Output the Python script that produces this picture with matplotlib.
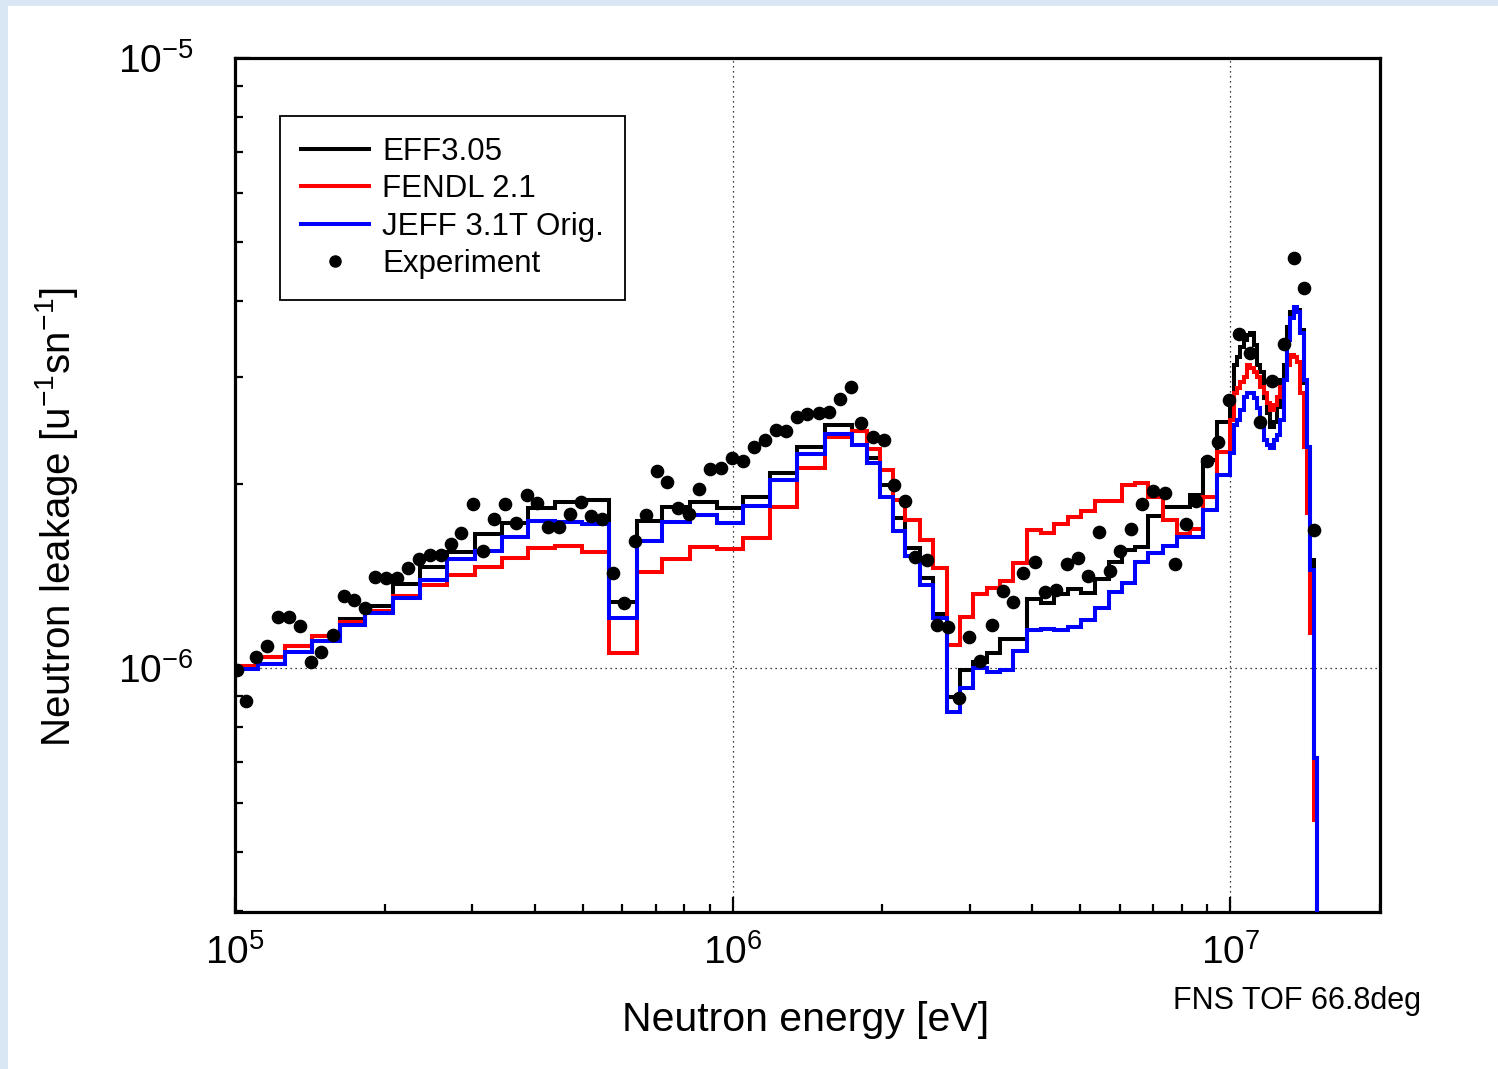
import numpy as np
import matplotlib
matplotlib.use('Agg')
import matplotlib.pyplot as plt
from matplotlib.lines import Line2D
from matplotlib.patches import Rectangle
from matplotlib.ticker import FixedLocator, NullFormatter

plt.rcParams['font.family'] = ['Liberation Sans', 'DejaVu Sans']
plt.rcParams['mathtext.default'] = 'regular'

# ---------------- data ----------------
# group bin edges, neutron energy in MeV
edges_MeV = [0.1000, 0.1114, 0.1260, 0.1426, 0.1626, 0.1825, 0.2081, 0.2354, 0.2664, 0.3036,
             0.3437, 0.3887, 0.4398, 0.4976, 0.5654, 0.6419, 0.7206, 0.8214, 0.9296, 1.0513,
             1.1896, 1.3461, 1.5346, 1.7365, 1.8615, 1.9792, 2.1048, 2.222, 2.382, 2.533,
             2.695, 2.866, 3.048, 3.243, 3.449, 3.667, 3.902, 4.164, 4.431, 4.715,
             5.017, 5.354, 5.694, 6.056, 6.442, 6.851, 7.344, 7.813, 8.309, 8.836,
             9.402, 10.00, 10.16, 10.31, 10.47, 10.64, 10.80, 10.97, 11.14, 11.31,
             11.49, 11.67, 11.85, 12.03, 12.22, 12.41, 12.60, 12.80, 13.00, 13.20,
             13.41, 13.62, 13.83, 14.04, 14.26, 14.48, 14.71, 14.94, 15.17]

# leakage per group, units of 1e-6 /u/sn
eff305 = [1.009, 1.044, 1.087, 1.128, 1.203, 1.265, 1.373, 1.464, 1.550, 1.658,
          1.730, 1.829, 1.871, 1.886, 1.285, 1.741, 1.838, 1.873, 1.829, 1.909,
          2.087, 2.303, 2.502, 2.446, 2.210, 1.995, 1.762, 1.573, 1.403, 1.226,
          0.895, 0.992, 1.024, 1.057, 1.114, 1.114, 1.296, 1.277, 1.321, 1.346,
          1.326, 1.398, 1.494, 1.562, 1.580, 1.775, 1.838, 1.838, 1.921, 2.193,
          2.533,
          2.785, 3.139, 3.239, 3.363, 3.449, 3.515, 3.537, 3.384, 3.139, 3.060,
          2.768, 2.616, 2.486, 2.533, 2.682, 2.966, 3.139, 3.627, 3.838, 3.888,
          3.863, 3.581, 2.929, 2.306, 1.503, 0.712, 0.001]

fendl21 = [1.009, 1.044, 1.087, 1.128, 1.191, 1.241, 1.312, 1.368, 1.422, 1.466,
           1.515, 1.575, 1.587, 1.550, 1.057, 1.438, 1.509, 1.580, 1.567, 1.632,
           1.834, 2.125, 2.394, 2.446, 2.286, 2.112, 1.886, 1.745, 1.621, 1.456,
           1.089, 1.212, 1.322, 1.353, 1.389, 1.486, 1.684, 1.665, 1.722, 1.770,
           1.811, 1.875, 1.875, 1.995, 2.008, 1.909, 1.745, 1.660, 1.688, 1.909,
           2.263,
           2.550, 2.821, 2.874, 2.947, 3.003, 3.139, 3.100, 3.060, 3.003, 2.892,
           2.821, 2.716, 2.648, 2.699, 2.785, 2.892, 2.966, 3.139, 3.260, 3.239,
           3.178, 2.821, 2.306, 1.793, 1.140, 0.563, 0.001]

jeff31t = [0.996, 1.015, 1.063, 1.107, 1.176, 1.231, 1.302, 1.394, 1.509, 1.557,
           1.640, 1.741, 1.735, 1.722, 1.209, 1.615, 1.735, 1.782, 1.730, 1.845,
           2.033, 2.243, 2.419, 2.321, 2.168, 1.909, 1.677, 1.526, 1.368, 1.208,
           0.848, 0.926, 0.998, 0.986, 0.994, 1.067, 1.152, 1.159, 1.154, 1.169,
           1.198, 1.254, 1.332, 1.378, 1.489, 1.542, 1.585, 1.642, 1.642, 1.816,
           2.068,
           2.249, 2.502, 2.550, 2.648, 2.785, 2.821, 2.821, 2.768, 2.666, 2.533,
           2.364, 2.321, 2.292, 2.364, 2.410, 2.550, 2.966, 3.449, 3.743, 3.912,
           3.838, 3.537, 2.966, 2.306, 1.448, 0.712, 0.001]

# experiment (MeV, 1e-6 /u/sn)
exp_E_MeV = [0.1008, 0.1051, 0.1102, 0.1161, 0.1222, 0.1284, 0.1351, 0.1421, 0.1491, 0.1576,
             0.1654, 0.1735, 0.1823, 0.1914, 0.2012, 0.2120, 0.2228, 0.2343, 0.2466, 0.2591,
             0.2714, 0.2850, 0.3006, 0.3155, 0.3316, 0.3486, 0.3667, 0.3858, 0.4052, 0.4264,
             0.4481, 0.4707, 0.4952, 0.5202, 0.5473, 0.5751, 0.6051, 0.6370, 0.6687, 0.7042,
             0.7396, 0.7772, 0.8165, 0.8576, 0.9012, 0.9469, 0.9991, 1.051, 1.105, 1.161,
             1.221, 1.283, 1.348, 1.414, 1.490, 1.563, 1.642, 1.733, 1.813, 1.914,
             2.017, 2.112, 2.219, 2.331, 2.457, 2.573, 2.715, 2.853, 2.992, 3.145,
             3.319, 3.489, 3.662, 3.842, 4.043, 4.248, 4.471, 4.697, 4.942, 5.190,
             5.453, 5.738, 6.010, 6.324, 6.664, 7.012, 7.379, 7.728, 8.146, 8.532,
             8.978, 9.460, 9.954, 10.42, 10.97, 11.49, 12.13, 12.80, 13.41, 14.10,
             14.77]
exp_val = [0.992, 0.883, 1.044, 1.087, 1.214, 1.214, 1.173, 1.024, 1.063, 1.133,
           1.312, 1.293, 1.254, 1.411, 1.403, 1.403, 1.460, 1.509, 1.532, 1.532,
           1.595, 1.663, 1.855, 1.555, 1.753, 1.855, 1.730, 1.921, 1.862, 1.704,
           1.704, 1.786, 1.873, 1.775, 1.753, 1.431, 1.277, 1.614, 1.782, 2.103,
           2.020, 1.832, 1.786, 1.965, 2.122, 2.125, 2.207, 2.185, 2.300, 2.364,
           2.456, 2.446, 2.576, 2.608, 2.621, 2.628, 2.757, 2.892, 2.518, 2.389,
           2.364, 1.998, 1.880, 1.522, 1.503, 1.176, 1.165, 0.892, 1.125, 1.025,
           1.175, 1.336, 1.283, 1.433, 1.494, 1.334, 1.342, 1.481, 1.513, 1.415,
           1.673, 1.442, 1.555, 1.688, 1.855, 1.950, 1.934, 1.481, 1.722, 1.878,
           2.181, 2.344, 2.750, 3.528, 3.281, 2.533, 2.958, 3.394, 4.695, 4.202,
           1.684]

series_labels = ['EFF3.05', 'FENDL 2.1', 'JEFF 3.1T Orig.', 'Experiment']
x_ticks = [1e5, 1e6, 1e7]
x_ticklabels = [r'$10^{5}$', r'$10^{6}$', r'$10^{7}$']
y_ticks = [1e-6, 1e-5]
y_ticklabels = [r'$10^{-6}$', r'$10^{-5}$']

# ---------------- figure ----------------
W, H = 1498, 1069
fig = plt.figure(figsize=(W / 100, H / 100), dpi=100)
fig.patch.set_facecolor('#d9e6f3')
fig.add_artist(Rectangle((8 / W, 0), 1 - 8 / W, 1 - 6 / H, transform=fig.transFigure,
                         facecolor='white', edgecolor='none', zorder=-10))

ax = fig.add_axes([235 / W, 1 - 912 / H, 1145 / W, 854 / H])
ax.set_xscale('log')
ax.set_yscale('log')

edges = np.array(edges_MeV) * 1e6
lw = 2.9
ax.stairs(np.array(eff305) * 1e-6, edges, baseline=None, color='black', lw=lw, zorder=3)
ax.stairs(np.array(fendl21) * 1e-6, edges, baseline=None, color='#ff0000', lw=lw, zorder=4)
ax.stairs(np.array(jeff31t) * 1e-6, edges, baseline=None, color='#0000ff', lw=lw, zorder=5)
ax.plot(np.array(exp_E_MeV) * 1e6, np.array(exp_val) * 1e-6, 'o', color='black',
        ms=8.8, ls='none', zorder=6)

ax.set_xlim(1e5, 2e7)
ax.set_ylim(3.98e-7, 1e-5)

# ticks
ax.xaxis.set_major_locator(FixedLocator(x_ticks))
ax.yaxis.set_major_locator(FixedLocator(y_ticks))
xminor = [m * 10 ** d for d in (5, 6, 7) for m in range(2, 10)]
yminor = [m * 10.0 ** d for d in (-7, -6) for m in range(2, 10)]
ax.xaxis.set_minor_locator(FixedLocator(xminor))
ax.yaxis.set_minor_locator(FixedLocator(yminor))
ax.xaxis.set_minor_formatter(NullFormatter())
ax.yaxis.set_minor_formatter(NullFormatter())
ax.set_xticklabels(x_ticklabels, fontsize=28)
ax.set_yticklabels(y_ticklabels, fontsize=28)
ax.tick_params(which='both', direction='in', top=False, right=False, width=1.6, color='black')
ax.tick_params(which='major', length=11)
ax.tick_params(which='minor', length=6)
ax.tick_params(axis='x', which='major', pad=16)
ax.tick_params(axis='y', which='major', pad=30)

for s in ax.spines.values():
    s.set_linewidth(2.3)

ax.grid(which='major', ls=(0, (1, 3)), color='black', lw=0.9)
ax.set_axisbelow(True)

# legend
handles = [Line2D([], [], color='black', lw=lw),
           Line2D([], [], color='#ff0000', lw=lw),
           Line2D([], [], color='#0000ff', lw=lw),
           Line2D([], [], color='black', marker='o', ls='none', ms=8)]
leg = ax.legend(handles, series_labels, loc='upper left', bbox_to_anchor=(0.0393, 0.932),
                fontsize=22.5, frameon=True, fancybox=False, edgecolor='black', framealpha=1,
                borderaxespad=0, handlelength=2.2, handletextpad=0.42, labelspacing=0.24,
                borderpad=0.66)
leg.get_frame().set_linewidth(1.3)

# labels
fig.text(806 / W, 1 - 1020 / H, 'Neutron energy [eV]', ha='center', va='center', fontsize=29.5)
fig.text(57 / W, 1 - 517 / H, r'Neutron leakage [u$^{-1}$sn$^{-1}$]', ha='center', va='center',
         rotation=90, fontsize=29)
fig.text(1297 / W, 1 - 1001 / H, 'FNS TOF 66.8deg', ha='center', va='center', fontsize=22)

fig.savefig('out.png', dpi=100, facecolor=fig.get_facecolor())
